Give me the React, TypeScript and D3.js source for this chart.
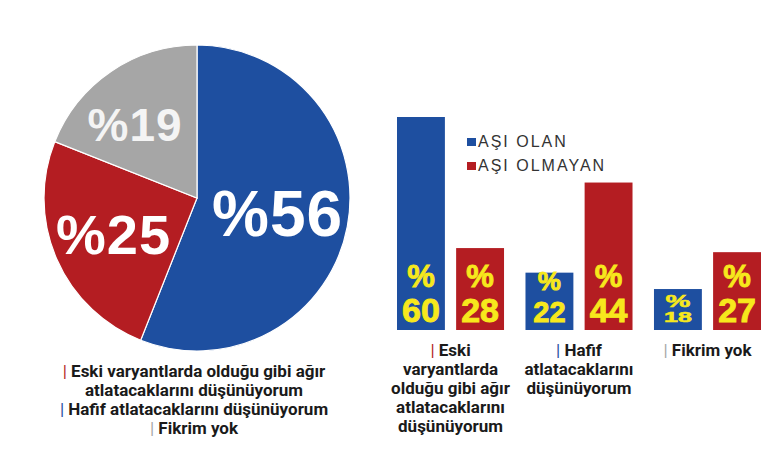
import React from 'react';
import * as d3 from 'd3';

// ---- data ----
const pieCategories = ['Hafif atlatacaklarını düşünüyorum', 'Eski varyantlarda olduğu gibi ağır atlatacaklarını düşünüyorum', 'Fikrim yok'];
const pieValues = [56, 25, 19];
const pieLabelTexts = ['%56', '%25', '%19'];

const legendLines = [
  ['Eski varyantlarda olduğu gibi ağır', 'atlatacaklarını düşünüyorum'],
  ['Hafif atlatacaklarını düşünüyorum'],
  ['Fikrim yok'],
];

const barCategories = ['Eski', 'Hafif', 'Fikrim yok'];
const barCategoryLines = [
  ['Eski', 'varyantlarda', 'olduğu gibi ağır', 'atlatacaklarını', 'düşünüyorum'],
  ['Hafif', 'atlatacaklarını', 'düşünüyorum'],
  ['Fikrim yok'],
];
const seriesNames = ['AŞI OLAN', 'AŞI OLMAYAN'];
const asiOlan = [60, 22, 18];
const asiOlmayan = [28, 44, 27];

// ---- styles ----
const BLUE = '#1e4fa0';
const RED = '#b41d22';
const GRAY = '#a6a6a6';
const YELLOW = '#f7e81c';
const pieColors = [BLUE, RED, GRAY];
const legendMarkColors = [RED, BLUE, GRAY];
const barColors = [BLUE, RED];
const LABEL_FONT = 'Roboto, "Open Sans", sans-serif';
const NUM_FONT = '"Liberation Sans", Arial, sans-serif';

export default function App() {
  const cx = 197, cy = 198, R = 153;
  const pie = d3.pie<number>().sort(null).value(d => d)(pieValues);
  const arc = d3.arc<d3.PieArcDatum<number>>().innerRadius(0).outerRadius(R);
  const labelR = [82, 91, 96];
  const labelSize = [64, 56, 46];
  const labelNudge = [[0, 0], [0, 0], [-8, 6]];
  const labelFill = ['#ffffff', '#ffffff', '#f4f4f4'];

  const x0 = d3.scaleBand<string>().domain(barCategories).range([397, 761]).paddingInner(0.167).paddingOuter(0);
  const x1 = d3.scaleBand<string>().domain(seriesNames).range([0, x0.bandwidth()]).paddingInner(0.19).paddingOuter(0);
  const y = d3.scaleLinear().domain([8, 60]).range([330, 117]);
  const seriesValues = [asiOlan, asiOlmayan];

  return (
    <svg width={770} height={471} style={{ position: 'absolute', left: 0, top: 0, background: '#fff' }}>
      <rect width={770} height={471} fill="#fff" />
      {/* pie */}
      <g transform={`translate(${cx},${cy})`}>
        {pie.map((d, i) => (
          <path key={i} d={arc(d) || ''} fill={pieColors[i]} stroke="#fff" strokeWidth={1.2} />
        ))}
        {pie.map((d, i) => {
          const a = (d.startAngle + d.endAngle) / 2;
          const px = Math.sin(a) * labelR[i] + labelNudge[i][0];
          const py = -Math.cos(a) * labelR[i] + labelNudge[i][1];
          return (
            <text key={'l' + i} x={px} y={py + labelSize[i] * 0.36} textAnchor="middle"
              fontFamily={NUM_FONT} fontWeight="bold"
              fontSize={labelSize[i]} fill={labelFill[i]} letterSpacing={1}>
              {pieLabelTexts[i]}
            </text>
          );
        })}
      </g>
      {/* pie legend */}
      {(() => {
        let line = 0;
        return legendLines.map((lines, gi) => lines.map((t, li) => {
          const yy = 377 + 19 * line++;
          return (
            <text key={gi + '-' + li} x={194} y={yy} textAnchor="middle" fontFamily={LABEL_FONT}
              fontWeight="bold" fontSize={17} fill="#1a1a1a">
              {li === 0 && <tspan fill={legendMarkColors[gi]} fontWeight="normal">| </tspan>}
              {t}
            </text>
          );
        }));
      })()}
      {/* bars */}
      {barCategories.map((c, ci) => (
        <g key={c} transform={`translate(${x0(c)},0)`}>
          {seriesNames.map((s, si) => {
            const v = seriesValues[si][ci];
            const bx = x1(s)!;
            const bw = x1.bandwidth();
            const top = y(v);
            const h = 330 - top;
            const mid = bx + bw / 2;
            let st = { pct: 31, num: 34, sy: 1, pctBase: 287 };
            if (h < 50) st = { pct: 28, num: 25, sy: 0.58, pctBase: 307 };
            else if (h < 65) st = { pct: 26, num: 29, sy: 1, pctBase: 290 };
            const numBase = 322;
            return (
              <g key={s}>
                <rect x={bx} y={top} width={bw} height={h} fill={barColors[si]} />
                <text transform={`translate(${mid},${numBase}) scale(1,${st.sy})`} textAnchor="middle"
                  fontFamily={NUM_FONT} fontWeight="bold" fill={YELLOW} stroke={YELLOW} strokeWidth={0.9}>
                  <tspan x={0} y={(st.pctBase - numBase) / st.sy} fontSize={st.pct}>%</tspan>
                  <tspan x={0} y={0} fontSize={st.num}>{v}</tspan>
                </text>
              </g>
            );
          })}
          {barCategoryLines[ci].map((t, li) => (
            <text key={li} x={x0.bandwidth() / 2} y={356 + 19 * li} textAnchor="middle" fontFamily={LABEL_FONT}
              fontWeight="bold" fontSize={17} fill="#1a1a1a">
              {li === 0 && <tspan fill={legendMarkColors[ci]} fontWeight="normal">| </tspan>}
              {t}
            </text>
          ))}
        </g>
      ))}
      {/* bar legend */}
      {seriesNames.map((s, i) => (
        <g key={s}>
          <rect x={467} y={138 + 24 * i} width={9} height={8} fill={barColors[i]} />
          <text x={478} y={147 + 24 * i} fontFamily={NUM_FONT} fontSize={16}
            letterSpacing={2} fill="#333">{s}</text>
        </g>
      ))}
    </svg>
  );
}
